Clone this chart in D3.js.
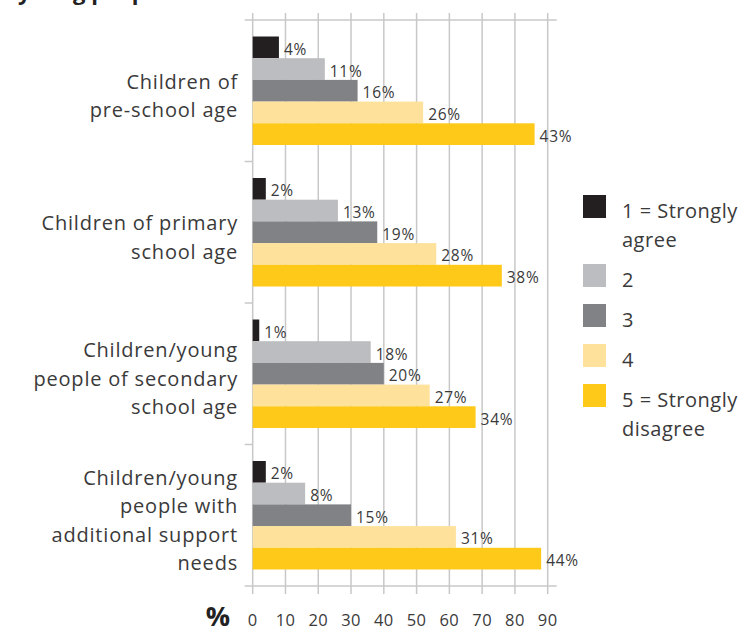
<!DOCTYPE html>
<html>
<head>
<meta charset="utf-8">
<script src="https://cdn.jsdelivr.net/npm/d3@7"></script>
<style>
  html, body { margin: 0; padding: 0; background: #fff; }
  svg { display: block; }
  text { font-family: "Open Sans", Lato, sans-serif; }
</style>
</head>
<body>
<svg id="chart" width="744" height="630"></svg>
<script>
// ---- data ----
const categories = [
  ["Children of", "pre-school age"],
  ["Children of primary", "school age"],
  ["Children/young", "people of secondary", "school age"],
  ["Children/young", "people with", "additional support", "needs"]
];
const seriesNames = ["1 = Strongly agree", "2", "3", "4", "5 = Strongly disagree"];
const legendLines = [["1 = Strongly", "agree"], ["2"], ["3"], ["4"], ["5 = Strongly", "disagree"]];
const s1 = [4, 2, 1, 2];
const s2 = [11, 13, 18, 8];
const s3 = [16, 19, 20, 15];
const s4 = [26, 28, 27, 31];
const s5 = [43, 38, 34, 44];
const tickLabels = [0, 10, 20, 30, 40, 50, 60, 70, 80, 90];
const colors = ["#231f20", "#bcbdc0", "#808285", "#fee29b", "#fec918"];
const titleFragment = "young people";

const series = [s1, s2, s3, s4, s5];

// ---- layout ----
const svg = d3.select("#chart");
const plotLeft = 252.7, plotRight = 547.7;
const plotTop = 20, plotBottom = 586;
const gridColor = "#c8c8c8";
const textColor = "#3a3a3a";

// axis drawn on 0..90 as printed; bars are drawn on 0..45 (the printed axis is doubled)
const xAxisScale = d3.scaleLinear().domain([0, 90]).range([plotLeft, plotRight]);
const x = d3.scaleLinear().domain([0, 45]).range([plotLeft, plotRight]);

const catIdx = d3.range(categories.length);
const y0 = d3.scaleBand().domain(catIdx).range([plotTop, plotBottom]);
const y1 = d3.scaleBand().domain(d3.range(series.length))
  .range([16.5, y0.bandwidth() - 16.5]);

// title fragment (cut off at top, as in the reference)
svg.append("text").attr("x", 18).attr("y", 0)
  .attr("font-size", 22).attr("font-weight", "bold").attr("fill", "#222")
  .text(titleFragment);

// gridlines (vertical, extending beyond frame like ticks)
const grid = svg.append("g");
grid.selectAll("line.v").data(tickLabels).join("line")
  .attr("x1", d => xAxisScale(d)).attr("x2", d => xAxisScale(d))
  .attr("y1", plotTop - 7).attr("y2", plotBottom + 8)
  .attr("stroke", gridColor).attr("stroke-width", 1.5);
[plotTop, plotBottom].forEach(yy => {
  grid.append("line").attr("x1", plotLeft - 8).attr("x2", plotRight + 9)
    .attr("y1", yy).attr("y2", yy)
    .attr("stroke", gridColor).attr("stroke-width", 1.5);
});
grid.selectAll("line.sep").data(catIdx.slice(1)).join("line")
  .attr("x1", plotLeft - 8).attr("x2", plotLeft)
  .attr("y1", d => y0(d)).attr("y2", d => y0(d))
  .attr("stroke", gridColor).attr("stroke-width", 1.5);

// bars
const groups = svg.append("g").selectAll("g").data(catIdx).join("g")
  .attr("transform", i => `translate(0,${y0(i)})`);

groups.selectAll("rect").data(i => series.map((s, k) => ({ k, v: s[i] }))).join("rect")
  .attr("x", x(0))
  .attr("y", d => y1(d.k))
  .attr("width", d => x(d.v) - x(0))
  .attr("height", y1.bandwidth())
  .attr("fill", d => colors[d.k]);

groups.selectAll("text.val").data(i => series.map((s, k) => ({ k, v: s[i] }))).join("text")
  .attr("class", "val")
  .attr("x", d => x(d.v) + 5)
  .attr("y", d => y1(d.k) + y1.bandwidth() / 2 + 7.5)
  .attr("font-size", 15.5).attr("letter-spacing", 0.7).attr("fill", textColor)
  .text(d => d.v + "%");

// category labels
const lh = 28.5;
svg.append("g").selectAll("text").data(catIdx).join("text")
  .attr("text-anchor", "end")
  .attr("font-size", 20).attr("letter-spacing", 0.8).attr("fill", textColor)
  .each(function (i) {
    const lines = categories[i];
    const c = y0(i) + y0.bandwidth() / 2;
    const first = c - (lines.length - 1) * lh / 2 + 12;
    d3.select(this).selectAll("tspan").data(lines).join("tspan")
      .attr("x", 238).attr("y", (d, j) => first + j * lh)
      .text(d => d);
  });

// x axis tick labels
svg.append("g").selectAll("text").data(tickLabels).join("text")
  .attr("x", d => xAxisScale(d)).attr("y", 626)
  .attr("text-anchor", "middle").attr("font-size", 16.5).attr("letter-spacing", 0.4)
  .attr("fill", textColor)
  .text(d => d);

svg.append("text").attr("x", 218).attr("y", 626)
  .attr("text-anchor", "middle").attr("font-size", 27).attr("font-weight", "bold")
  .attr("fill", "#222").text("%");

// legend
const lg = svg.append("g");
let ly = 195;
legendLines.forEach((lines, k) => {
  lg.append("rect").attr("x", 583).attr("y", ly).attr("width", 23).attr("height", 23)
    .attr("fill", colors[k]);
  const t = lg.append("text").attr("font-size", 20).attr("letter-spacing", 0.5)
    .attr("fill", textColor);
  lines.forEach((ln, j) => {
    t.append("tspan").attr("x", 622).attr("y", ly + 23 + j * 28.5).text(ln);
  });
  ly += 40 + (lines.length - 1) * 29;
});
</script>
</body>
</html>
